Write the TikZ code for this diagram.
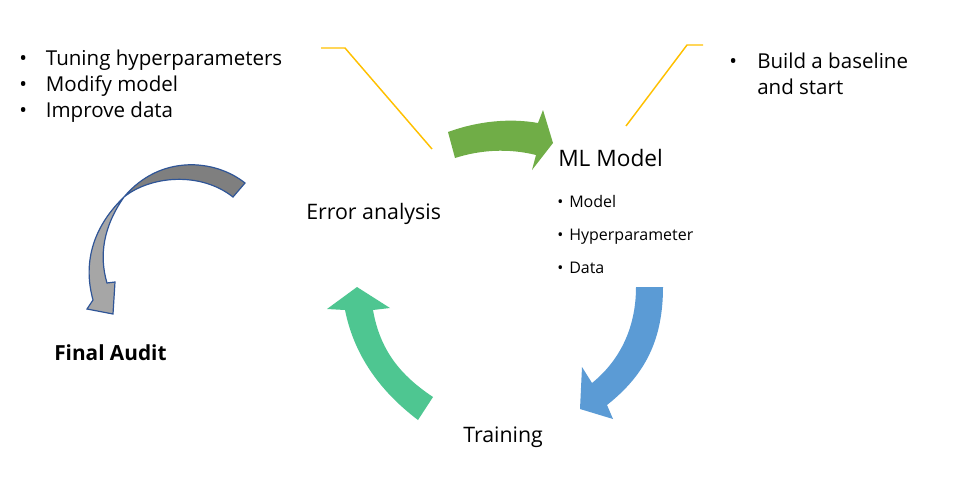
\documentclass[tikz,border=0pt]{standalone}
\usepackage{fontspec}
\setmainfont{Open Sans}
\usepackage{xcolor}
\usepackage{tikz}
\usetikzlibrary{positioning}
\definecolor{loopgreen}{HTML}{70AD47}
\definecolor{loopblue}{HTML}{5B9BD5}
\definecolor{loopteal}{HTML}{4EC691}
\definecolor{auditdark}{HTML}{7F7F7F}
\definecolor{auditlight}{HTML}{A6A6A6}
\definecolor{auditline}{HTML}{2F5597}
\definecolor{callout}{HTML}{FFC000}
\newcommand{\bul}[1]{\makebox[#1][l]{\textbullet}}

\begin{document}
\begin{tikzpicture}[x=0.75pt, y=-0.75pt,
  big/.style={anchor=base west, inner sep=0pt, font=\fontsize{15.4}{18}\selectfont},
  small/.style={anchor=base west, inner sep=0pt, font=\fontsize{12}{14}\selectfont}]
\useasboundingbox (0,0) rectangle (960,490);
% callout lines
\coordinate (la) at (321,48); \coordinate (lb) at (345,48); \coordinate (lc) at (432,149);
\coordinate (ra) at (626,126); \coordinate (rb) at (687,45); \coordinate (rc) at (703,45);
\draw[callout, line width=1.1pt] (la) -- (lb) -- (lc);
\draw[callout, line width=1.1pt] (ra) -- (rb) -- (rc);
% block arrows
\fill[loopgreen] (448,132) .. controls (478,121) and (510,118) .. (538,123) -- (543,110) -- (553,143)
  -- (532,170) -- (536,155) .. controls (508,148) and (480,150) .. (455,158) -- cycle;
\fill[loopblue] (636,287) -- (663,287) .. controls (663,340) and (645,375) .. (607,405) -- (613,419)
  -- (580,409) -- (582,367) -- (592,383) .. controls (618,362) and (636,330) .. (636,287) -- cycle;
\fill[loopteal] (418,420) .. controls (385,395) and (355,360) .. (345,310) -- (327,309) -- (357,287)
  -- (390,308) -- (373,310) .. controls (380,350) and (400,375) .. (433,397) -- cycle;
\filldraw[fill=auditdark, draw=auditline, line width=0.9pt] (245,183) .. controls (215,159) and (160,154) .. (124,197)
  .. controls (150,176) and (200,171) .. (233,197) -- cycle;
\filldraw[fill=auditlight, draw=auditline, line width=0.9pt] (124,197) .. controls (95,225) and (82,260) .. (93,300)
  -- (87,309) -- (113,314) -- (115,282) -- (107,283) .. controls (99,256) and (103,227) .. (124,197) -- cycle;
% texts
\node[big] (tune) at (19,65) {\bul{20pt}Tuning hyperparameters};
\node[big] (modify) at (19,91) {\bul{20pt}Modify model};
\node[big] (improve) at (19,117) {\bul{20pt}Improve data};
\node[big] (baseline) at (729,68) {\bul{21pt}Build a baseline};
\node[big] (start) at (757,94) {and start};
\node[anchor=base west, inner sep=0pt, font=\fontsize{17}{20}\selectfont] (model) at (558,166) {ML Model};
\node[small] (mdl) at (557,207) {{\large\bul{9pt}}Model};
\node[small] (hyp) at (557,240) {{\large\bul{9pt}}Hyperparameter};
\node[small] (dat) at (557,273) {{\large\bul{9pt}}Data};
\node[anchor=base west, inner sep=0pt, font=\fontsize{16}{19}\selectfont] (error) at (306,219) {Error analysis};
\node[anchor=base west, inner sep=0pt, font=\fontsize{16}{19}\selectfont] (train) at (463,442) {Training};
\node[anchor=base west, inner sep=0pt, font=\fontsize{15.6}{18}\selectfont\bfseries] (audit) at (54,360) {Final Audit};
\end{tikzpicture}
\end{document}
